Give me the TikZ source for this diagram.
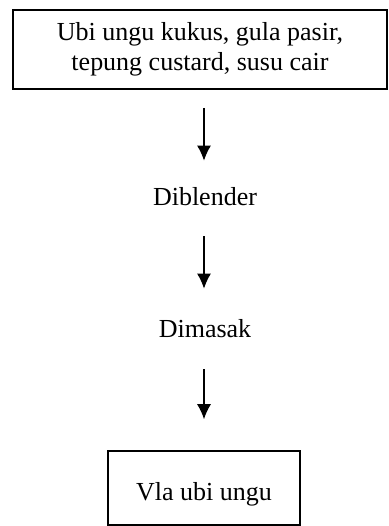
\documentclass[tikz,border=0pt]{standalone}
\usepackage{fontspec}
\setmainfont{Liberation Serif}
\usetikzlibrary{arrows.meta,positioning}

\tikzset{
  stepbox/.style={draw, line width=0.8pt, rectangle, align=center, font=\fontsize{13}{15}\selectfont},
  steptext/.style={inner sep=0pt, text height=9pt, text depth=3pt, font=\fontsize{13}{15}\selectfont},
  flow/.style={->, line width=0.6pt}
}

\begin{document}
\begin{tikzpicture}[x=0.5pt, y=-0.5pt, >={Latex[length=7.5pt,width=7pt]}]
  \useasboundingbox (0,0) rectangle (388,526);
  \node [stepbox, minimum width=187pt, minimum height=39.5pt] (bahan) at (200,49.5)
        {Ubi ungu kukus, gula pasir,\\tepung custard, susu cair};
  \node [steptext] (blend) at (205,199) {Diblender};
  \node [steptext] (masak) at (205,331) {Dimasak};
  \node [stepbox, minimum width=96pt, minimum height=37pt, text height=15pt, text depth=3pt] (vla) at (204,488) {Vla ubi ungu};
  \draw [flow, shorten <=9pt, shorten >=13pt] (bahan.south -| vla) -- (blend.north -| vla);
  \draw [flow, shorten <=12.5pt, shorten >=15pt] (blend.south -| vla) -- (masak.north -| vla);
  \draw [flow, shorten <=13pt, shorten >=15.5pt] (masak.south -| vla) -- (vla.north);
\end{tikzpicture}
\end{document}
